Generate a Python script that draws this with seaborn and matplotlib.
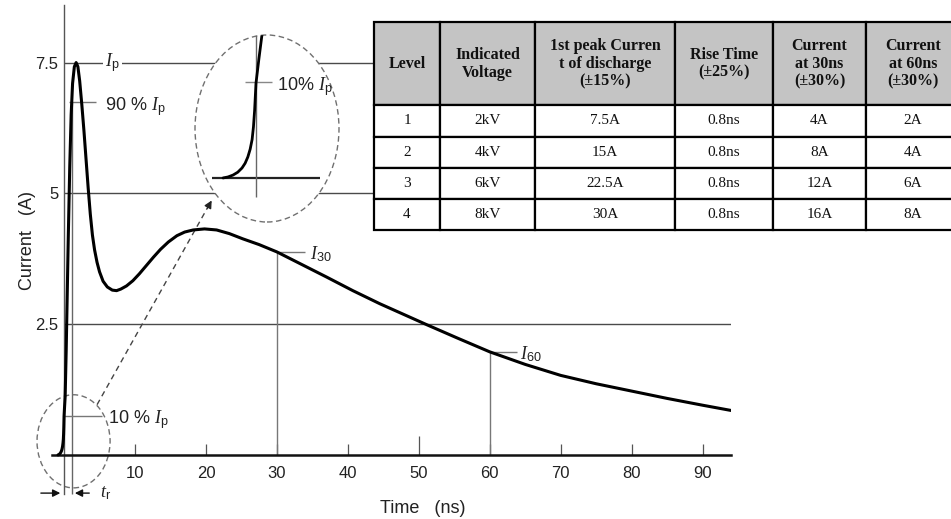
import matplotlib
matplotlib.use("Agg")
import matplotlib.pyplot as plt
from matplotlib import font_manager
from matplotlib.patches import Ellipse
from matplotlib.font_manager import FontProperties
import seaborn as sns

# ESD discharge current waveform (time in ns, current in A)
time_ns = [-0.85, -0.72, -0.59, -0.47, -0.36, -0.28, -0.21, -0.15, -0.10, -0.065, -0.035,
           0.0, 0.075, 0.155, 0.3, 0.45, 0.6, 0.8, 1.0, 1.2, 1.45, 1.7, 1.95, 2.2, 2.5,
           2.8, 3.1, 3.4, 3.7, 4.0, 4.3, 4.65, 5.0, 5.5, 6.1, 6.8, 7.4, 8.0, 8.8, 9.7,
           10.6, 11.6, 12.6, 13.6, 14.7, 15.9, 17.0, 18.2, 19.8, 21.5, 23.3, 25.2,
           27.5, 30.0, 33.5, 37.0, 40.7, 44.5, 47.8, 51.1, 55.5, 60.0, 65.0, 70.0,
           75.0, 80.0, 85.0, 90.0, 94.0]
current_a = [0.0, 0.008, 0.023, 0.045, 0.078, 0.115, 0.164, 0.225, 0.30, 0.40, 0.53,
             0.74, 0.93, 1.12, 2.0, 3.1, 4.2, 5.5, 6.5, 7.1, 7.42, 7.5, 7.42, 7.15, 6.7,
             6.2, 5.65, 5.1, 4.6, 4.2, 3.92, 3.68, 3.5, 3.32, 3.21, 3.15, 3.14, 3.17, 3.23, 3.33,
             3.46, 3.62, 3.78, 3.93, 4.07, 4.19, 4.26, 4.30, 4.32, 4.30, 4.23, 4.13,
             4.02, 3.88, 3.64, 3.40, 3.14, 2.89, 2.69, 2.49, 2.23, 1.97, 1.73, 1.52,
             1.36, 1.22, 1.08, 0.95, 0.85]

peak_current = 7.5
t_10 = 0.0          # 10 % crossing of the rising edge
t_90 = 1.1          # 90 % crossing of the rising edge
t_30, t_60 = 30.0, 60.0
i_30 = current_a[time_ns.index(t_30)]
i_60 = current_a[time_ns.index(t_60)]

x_ticks = [10, 20, 30, 40, 50, 60, 70, 80, 90]
y_ticks = [2.5, 5, 7.5]
y_tick_labels = ["2.5", "5", "7.5"]

# test level table
table_header = ["Level", "Indicated\nVoltage", "1st peak Curren\nt of discharge\n(±15%)",
                "Rise Time\n(±25%)", "Current\nat 30ns\n(±30%)", "Current\nat 60ns\n(±30%)"]
levels = ["1", "2", "3", "4"]
voltages = ["2kV", "4kV", "6kV", "8kV"]
peak_currents = ["7.5A", "15A", "22.5A", "30A"]
rise_times = ["0.8ns", "0.8ns", "0.8ns", "0.8ns"]
currents_30ns = ["4A", "8A", "12A", "16A"]
currents_60ns = ["2A", "4A", "6A", "8A"]

sns.set_theme(style="white")
installed = {f.name for f in font_manager.fontManager.ttflist}
sans = "Liberation Sans Narrow" if "Liberation Sans Narrow" in installed else "Liberation Sans"
plt.rcParams["font.family"] = [sans, "DejaVu Sans"]
plt.rcParams.update({
    "mathtext.fontset": "custom",
    "mathtext.it": "Liberation Serif:italic",
    "mathtext.rm": sans,
    "mathtext.default": "it",
})

W, H = 951, 519
fig = plt.figure(figsize=(W / 100, H / 100), dpi=100)
ax = fig.add_axes([52 / W, 1 - 502 / H, 679 / W, 497 / H])
ax.set_xlim(-1.7, 94)
ax.set_ylim(-0.9, 8.6)
ax.patch.set_alpha(0)

grid_c = "#4a4a4a"
ax.hlines(y_ticks, 0, 94, color=grid_c, lw=1.0, zorder=1)
ax.vlines([t_30], 0, i_30, color="#777777", lw=1.0, zorder=1)
ax.vlines([t_60], 0, i_60, color="#777777", lw=1.0, zorder=1)
ax.vlines([t_90], -0.75, 0.9 * peak_current, color="#666666", lw=1.0, zorder=1)

sns.lineplot(x=time_ns, y=current_a, ax=ax, color="black", lw=2.2, zorder=3)

for s in ["top", "right"]:
    ax.spines[s].set_visible(False)
ax.spines["bottom"].set_position(("data", 0))
ax.spines["bottom"].set_linewidth(1.8)
ax.spines["bottom"].set_color("#111111")
ax.spines["left"].set_position(("data", 0))
ax.spines["left"].set_bounds(-0.75, 8.6)
ax.spines["left"].set_linewidth(1.0)
ax.spines["left"].set_color("#555555")

ax.set_xticks(x_ticks)
ax.set_xticklabels([str(v) for v in x_ticks])
ax.set_yticks(y_ticks)
ax.set_yticklabels(y_tick_labels)
ax.tick_params(axis="x", direction="in", length=8, width=0.9, color="#555555",
               pad=8, labelsize=12, labelcolor="#222222", bottom=True)
ax.tick_params(axis="y", length=0, pad=4, labelsize=12, labelcolor="#222222")
ax.xaxis.get_major_ticks()[4].tick1line.set_markersize(14)

ax.set_xlabel("Time   (ns)", fontsize=13, color="#222222", va="center")
ax.xaxis.set_label_coords(0.546, -0.014)
ax.set_ylabel("Current   (A)", fontsize=13, color="#222222", va="center")
ax.yaxis.set_label_coords(-0.036, 0.527)

txt = dict(fontsize=13, color="#222222", va="center", ha="left")
# peak and rise-time markers
ax.text(5.8, peak_current, r"$I_{\mathrm{p}}$", zorder=4,
        bbox=dict(fc="white", ec="none", pad=1.5), **txt)
ax.hlines(0.9 * peak_current, 0.7, 4.5, color="#777777", lw=1.0)
ax.text(5.8, 0.9 * peak_current - 0.1, r"90 % $I_{\mathrm{p}}$", **txt)
ax.hlines(0.1 * peak_current, -0.14, 5.35, color="#777777", lw=1.0)
ax.text(6.2, 0.1 * peak_current - 0.08, r"10 % $I_{\mathrm{p}}$", **txt)

# 30 ns and 60 ns markers
ax.hlines(i_30, t_30, t_30 + 4.0, color="#777777", lw=1.0)
ax.text(t_30 + 4.6, i_30 - 0.05, r"$I_{30}$", **txt)
ax.hlines(i_60, t_60, t_60 + 3.8, color="#777777", lw=1.0)
ax.text(t_60 + 4.2, i_60 - 0.05, r"$I_{60}$", **txt)

# rise time arrows
arrow_kw = dict(arrowstyle="-|>", color="#111111", lw=1.0, mutation_scale=11)
ax.annotate("", xy=(t_10 - 0.14, -0.73), xytext=(-3.66, -0.73),
            arrowprops=arrow_kw, annotation_clip=False)
ax.annotate("", xy=(t_90 + 0.03, -0.73), xytext=(3.94, -0.73),
            arrowprops=arrow_kw, annotation_clip=False)
ax.text(5.0, -0.73, r"$t_{\mathrm{r}}$", **txt)

# small circle around the foot of the rising edge and link to the magnified view
ax.add_patch(Ellipse((1.34, 0.26), 10.3, 1.78, fill=False, ec="#707070",
                     ls=(0, (4, 2.5)), lw=1.0, clip_on=False, zorder=2))
ax.plot([4.65, 20.2], [0.96, 4.72], color="#444444", lw=1.0, ls=(0, (4, 3)))
ax.annotate("", xy=(21.0, 4.91), xytext=(20.0, 4.67),
            arrowprops=dict(arrowstyle="-|>", color="#222222", lw=1.0, mutation_scale=11))

# magnified view of the foot of the rising edge
ax_in = fig.add_axes([195 / W, 1 - 222 / H, 144 / W, 187 / H])
ax_in.set_xlim(-1.572, 2.14)
ax_in.set_ylim(-0.344, 1.117)
ax_in.axis("off")
lens = Ellipse((0.5, 0.5), 1, 1, transform=ax_in.transAxes, fc="white", ec="#707070",
               ls=(0, (4, 2.5)), lw=1.0, clip_on=False, zorder=0)
ax_in.add_patch(lens)
inner = []
inner.append(ax_in.hlines(0, -1.13, 1.65, color="#222222", lw=1.6, zorder=2))
inner.append(ax_in.vlines(t_10, -0.148, 1.2, color="#666666", lw=1.0, zorder=2))
inner.append(ax_in.hlines(0.1 * peak_current, -0.28, 0.41, color="#888888", lw=1.0, zorder=2))
sns.lineplot(x=time_ns, y=current_a, ax=ax_in, color="black", lw=2.0, zorder=3)
for art in inner + list(ax_in.lines):
    art.set_clip_path(lens)
ax_in.text(0.54, 0.1 * peak_current - 0.035, r"10% $I_{\mathrm{p}}$", **txt)

# table of test levels
col_px = [66, 95, 140, 98, 93, 94]
total = sum(col_px)
tax = fig.add_axes([374 / W, 1 - 230 / H, total / W, 208 / H])
tax.axis("off")
rows = list(zip(levels, voltages, peak_currents, rise_times, currents_30ns, currents_60ns))
tbl = tax.table(cellText=rows, colLabels=table_header, cellLoc="center",
                bbox=[0, 0, 1, 1], colWidths=[c / total for c in col_px])
tbl.auto_set_font_size(False)
head_fp = FontProperties(family="Liberation Serif", weight="bold", size=11.5)
body_fp = FontProperties(family="Liberation Serif", size=11)
for (r, c), cell in tbl.get_celld().items():
    cell.set_edgecolor("black")
    cell.set_linewidth(1.6)
    if r == 0:
        cell.set_height(83)
        cell.set_facecolor("#c4c4c4")
        cell.get_text().set_fontproperties(head_fp)
        cell.get_text().set_linespacing(1.15)
    else:
        cell.set_height(31)
        cell.set_facecolor("white")
        cell.get_text().set_fontproperties(body_fp)
    cell.get_text().set_color("#111111")

fig.savefig("out.png", dpi=100)
